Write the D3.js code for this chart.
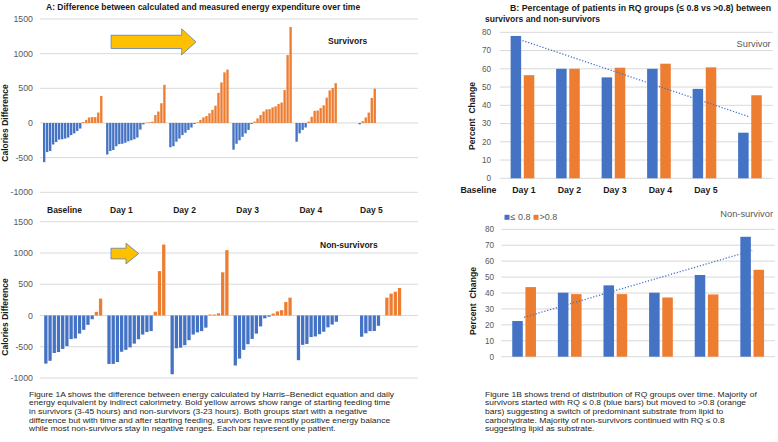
<!DOCTYPE html>
<html><head><meta charset="utf-8">
<script src="https://cdn.jsdelivr.net/npm/d3@7"></script>
<style>
body{margin:0;background:#fff;}
text{font-family:"Liberation Sans",Arial,sans-serif;}
</style></head><body>
<svg id="c" width="778" height="442"></svg>
<script>
// ---------- DATA ----------
const days = ["Baseline","Day 1","Day 2","Day 3","Day 4","Day 5"];
const caloriesTicks = [-1000,-500,0,500,1000,1500];
// Panel A: one bar per patient, grouped by day (sorted)
const survivorDiff = [
 [-565,-420,-405,-310,-275,-240,-235,-225,-210,-175,-150,-115,-80,15,45,80,85,85,150,390],
 [-455,-405,-390,-335,-305,-300,-285,-265,-250,-235,-210,-95,-20,5,10,20,115,165,285,550],
 [-350,-335,-270,-225,-175,-140,-100,-65,-15,10,45,80,100,140,190,250,435,585,730,770],
 [-385,-300,-250,-200,-150,-100,-15,20,65,115,165,195,200,225,240,275,295,475,980,1385],
 [-270,-150,-100,-65,20,90,175,180,215,255,365,470,505,575],
 [-20,25,80,150,360,495]
];
const nonSurvivorDiff = [
 [-770,-725,-600,-585,-535,-490,-378,-367,-290,-230,-150,-60,58,270],
 [-775,-775,-745,-580,-550,-510,-450,-380,-305,-265,-250,60,710,1135],
 [-940,-525,-515,-475,-395,-305,-270,-250,-195,15,15,35,690,1045],
 [-800,-690,-550,-460,-375,-290,-175,-45,-20,30,65,85,215,285],
 [-715,-470,-455,-345,-335,-300,-260,-190,-145,-100],
 [-340,-285,-250,-248,-165,null,285,350,380,440]
];
// Panel B: percent of patients per RQ group
const rqGroups = ["≤ 0.8", ">0.8"];
const percentTicks = [0,10,20,30,40,50,60,70,80];
const survivorLE = [78, 60, 55.3, 60, 49, 25];
const survivorGT = [56.5, 60, 60.6, 62.8, 60.8, 45.5];
const nonSurvivorLE = [22.4, 40.2, 44.8, 40.2, 51.3, 75.3];
const nonSurvivorGT = [43.7, 39.3, 39.3, 37.2, 39.1, 54.6];

const captionA = [
 "Figure 1A shows the difference between energy calculated by Harris–Benedict equation and daily",
 "energy equivalent by indirect calorimetry. Bold yellow arrows show range of starting feeding time",
 "in survivors (3-45 hours) and non-survivors (3-23 hours). Both groups start with a negative",
 "difference but with time and after starting feeding, survivors have mostly positive energy balance",
 "while most non-survivors stay in negative ranges. Each bar represent one patient."
];
const captionB = [
 "Figure 1B shows trend of distribution of RQ groups over time. Majority of",
 "survivors started with RQ ≤ 0.8 (blue bars) but moved to >0.8 (orange",
 "bars) suggesting a switch of predominant substrate from lipid to",
 "carbohydrate. Majority of non-survivors continued with RQ ≤ 0.8",
 "suggesting lipid as substrate."
];

// ---------- DRAW ----------
const BLUE = "#4472C4", ORANGE = "#ED7D31", GRID = "#d9d9d9", TICK = "#595959";
const svg = d3.select("#c");

function barPanelA(data, slotsPerGroup, y, yMid, name, nameX, nameY, arrow) {
  const nSlots = slotsPerGroup * days.length;
  const x = d3.scaleBand().domain(d3.range(nSlots)).range([40, 418]).paddingInner(0.22).paddingOuter(0);
  const slotX = d3.scaleLinear().domain([0, nSlots]).range([40, 418]);
  const g = svg.append("g");
  g.selectAll("line.grid").data(caloriesTicks).join("line")
    .attr("x1", 40).attr("x2", 418).attr("y1", d => y(d)).attr("y2", d => y(d))
    .attr("stroke", GRID).attr("stroke-width", 1);
  g.selectAll("text.tick").data(caloriesTicks).join("text")
    .attr("x", 33).attr("y", d => y(d)).attr("dy", "0.35em").attr("text-anchor", "end")
    .attr("font-size", 8.8).attr("fill", TICK).text(d => d);
  const bars = [];
  data.forEach((arr, gi) => arr.forEach((v, j) => { if (v !== null) bars.push({slot: gi*slotsPerGroup + 1 + j, v}); }));
  g.selectAll("rect.bar").data(bars).join("rect")
    .attr("x", d => x(d.slot)).attr("width", x.bandwidth())
    .attr("y", d => y(Math.max(0, d.v))).attr("height", d => Math.abs(y(d.v) - y(0)))
    .attr("fill", d => d.v < 0 ? BLUE : ORANGE);
  g.append("text").attr("transform", `translate(7.5,${yMid}) rotate(-90)`)
    .attr("text-anchor", "middle").attr("font-size", 8.5).attr("font-weight", "bold").attr("fill", "#1a1a1a")
    .text("Calories Difference");
  g.append("text").attr("x", nameX).attr("y", nameY).attr("font-size", 8.5).attr("font-weight", "bold")
    .attr("fill", "#1a1a1a").text(name);
  // arrow annotation
  const ax0 = slotX(arrow.from), ax1 = slotX(arrow.to), ay = y(arrow.value);
  const hb = arrow.body/2, hh = arrow.head/2, hx = ax1 - arrow.headLen;
  g.append("path")
    .attr("d", `M${ax0},${ay-hb}L${hx},${ay-hb}L${hx},${ay-hh}L${ax1},${ay}L${hx},${ay+hh}L${hx},${ay+hb}L${ax0},${ay+hb}Z`)
    .attr("fill", "#FFC000").attr("stroke", "#5B7FB5").attr("stroke-width", 0.8);
  return {x, slotX};
}

const yTop = d3.scaleLinear().domain([-1000, 1500]).range([192.3, 19]);
const yBot = d3.scaleLinear().domain([-1000, 1500]).range([378, 221.7]);

svg.append("text").attr("x", 46).attr("y", 9.8).attr("font-size", 8.5).attr("font-weight", "bold")
  .attr("fill", "#1a1a1a").text("A: Difference between calculated and measured energy expenditure over time");

const topA = barPanelA(survivorDiff, 21, yTop, 123, "Survivors", 328, 43.8,
  {from: 23.7, to: 52, value: 1170, body: 13.3, head: 26, headLen: 14.3});
const botA = barPanelA(nonSurvivorDiff, 15, yBot, 317, "Non-survivors", 320, 248,
  {from: 16.9, to: 23.5, value: 990, body: 10.7, head: 20.7, headLen: 12.7});

// day labels row for panel A (text boxes)
svg.append("g").selectAll("text").data(days).join("text")
  .attr("x", (d, i) => topA.x(i*21 + 1) + 4 - (i===5?2.5:0)).attr("y", 213.3)
  .attr("font-size", 8.5).attr("font-weight", "bold").attr("fill", "#1a1a1a").text(d => d);

// captions: compact lines, slightly widened glyphs to match the reference widths
function caption(lines, x0) {
  svg.append("g").selectAll("text").data(lines).join("text")
    .attr("transform", (d, i) => `translate(${x0},${396.5 + i*8.7}) scale(1.12,1)`)
    .attr("font-size", 7.6).attr("fill", "#262626").text(d => d);
}
caption(captionA, 29);
caption(captionB, 485);

// ---------- Panel B ----------
svg.append("text").attr("x", 510).attr("y", 10.6).attr("font-size", 9).attr("font-weight", "bold")
  .attr("textLength", 261).attr("lengthAdjust", "spacingAndGlyphs")
  .attr("fill", "#1a1a1a").text("B: Percentage of patients in RQ groups (≤ 0.8 vs >0.8) between");
svg.append("text").attr("x", 485).attr("y", 21.6).attr("font-size", 9).attr("font-weight", "bold")
  .attr("textLength", 115).attr("lengthAdjust", "spacingAndGlyphs")
  .attr("fill", "#1a1a1a").text("survivors and non-survivors");

function barPanelB(le, gt, x0r, yr, labelRight, name, nameY, titleX, titleY) {
  const x0 = d3.scaleBand().domain(days).range(x0r).paddingInner(0.48).paddingOuter(0.24);
  const x1 = d3.scaleBand().domain(rqGroups).range([0, x0.bandwidth()]).paddingInner(0.2);
  const y = d3.scaleLinear().domain([0, 80]).range(yr);
  const g = svg.append("g");
  g.selectAll("line").data(percentTicks).join("line")
    .attr("x1", x0r[0]).attr("x2", x0r[1]).attr("y1", d => y(d)).attr("y2", d => y(d))
    .attr("stroke", GRID).attr("stroke-width", 1);
  g.selectAll("text.tick").data(percentTicks).join("text")
    .attr("x", labelRight).attr("y", d => y(d)).attr("dy", "0.35em").attr("text-anchor", "end")
    .attr("font-size", 8.2).attr("fill", TICK).text(d => d);
  const rows = days.map((d, i) => ({day: d, vals: [{k: rqGroups[0], v: le[i]}, {k: rqGroups[1], v: gt[i]}]}));
  g.selectAll("g.pair").data(rows).join("g").attr("transform", d => `translate(${x0(d.day)},0)`)
    .selectAll("rect").data(d => d.vals).join("rect")
    .attr("x", d => x1(d.k)).attr("width", x1.bandwidth())
    .attr("y", d => y(d.v)).attr("height", d => y(0) - y(d.v))
    .attr("fill", d => d.k === rqGroups[0] ? BLUE : ORANGE);
  // linear trendline of ≤0.8 series
  const xs = le.map((v, i) => i + 1);
  const mx = d3.mean(xs), my = d3.mean(le);
  const slope = d3.sum(xs.map((xv, i) => (xv - mx)*(le[i] - my))) / d3.sum(xs.map(xv => (xv - mx)**2));
  const icpt = my - slope*mx;
  const cx = i => x0(days[i]) + x0.bandwidth()/2;
  g.append("line").attr("x1", cx(0)).attr("x2", cx(5))
    .attr("y1", y(icpt + slope*1)).attr("y2", y(icpt + slope*6))
    .attr("stroke", BLUE).attr("stroke-width", 1.3).attr("stroke-dasharray", "1.2,1.8");
  g.append("text").attr("x", x0r[1] - 2).attr("y", nameY).attr("text-anchor", "end")
    .attr("font-size", 9.3).attr("fill", TICK).text(name);
  g.append("text").attr("transform", `translate(${titleX},${titleY}) rotate(-90)`)
    .attr("text-anchor", "middle").attr("font-size", 8.6).attr("font-weight", "bold")
    .attr("fill", "#1a1a1a").style("white-space", "pre").text("Percent  Change");
  return {x0, y};
}

const topB = barPanelB(survivorLE, survivorGT, [499.7, 772.7], [178.3, 32.3], 491, "Survivor", 46.5, 474.8, 116);
const botB = barPanelB(nonSurvivorLE, nonSurvivorGT, [501.3, 775], [356.7, 229.3], 494, "Non-survivor", 217, 476, 301);

// day label row for panel B (text box, offset one category to the left)
svg.append("g").selectAll("text").data(days).join("text")
  .attr("x", (d, i) => topB.x0(d) + topB.x0.bandwidth()/2 - topB.x0.step() + 1.5)
  .attr("y", 193.2).attr("text-anchor", "middle")
  .attr("font-size", 8.75).attr("font-weight", "bold").attr("fill", "#1a1a1a").text(d => d);

// legend
const lg = svg.append("g").attr("transform", "translate(504.5,217.3)");
const legendItems = [{k: rqGroups[0], c: BLUE, dx: 0}, {k: rqGroups[1], c: ORANGE, dx: 29}];
lg.selectAll("rect").data(legendItems).join("rect")
  .attr("x", d => d.dx).attr("y", -2.5).attr("width", 5).attr("height", 5).attr("fill", d => d.c);
lg.selectAll("text").data(legendItems).join("text")
  .attr("x", d => d.dx + 6).attr("y", 0).attr("dy", "0.35em").attr("font-size", 9)
  .attr("fill", TICK).text(d => d.k);
</script>
</body></html>
